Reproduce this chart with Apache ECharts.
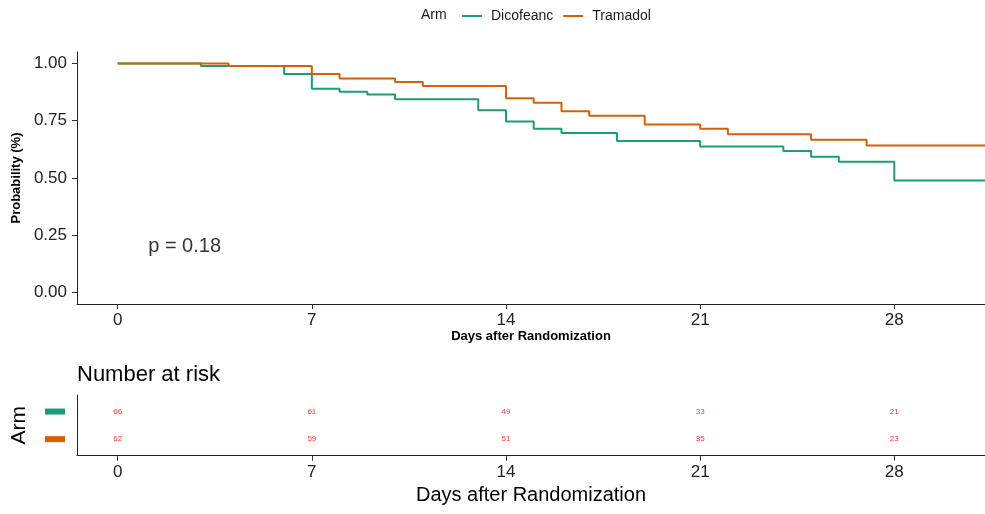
<!DOCTYPE html>
<html><head><meta charset="utf-8">
<script src="https://cdn.jsdelivr.net/npm/echarts@6/dist/echarts.min.js"></script>
<style>html,body{margin:0;padding:0;background:#fff}#c{width:985px;height:514px}</style>
</head><body><div id="c"></div>
<script>
const armNames = ['Dicofeanc', 'Tramadol'];
const armColors = ['#1B9E77', '#D95F02'];
const dicofeancTimes = [0, 3, 6, 7, 8, 9, 10, 13, 14, 15, 16, 18, 21, 24, 25, 26, 28];
const dicofeancSurv  = [1, 0.989, 0.954, 0.890, 0.877, 0.864, 0.844, 0.796, 0.747, 0.715, 0.696, 0.662, 0.637, 0.618, 0.593, 0.571, 0.489];
const tramadolTimes  = [0, 4, 7, 8, 10, 11, 14, 15, 16, 17, 19, 21, 22, 25, 27];
const tramadolSurv   = [1, 0.989, 0.954, 0.934, 0.919, 0.902, 0.848, 0.829, 0.791, 0.772, 0.734, 0.715, 0.691, 0.667, 0.642];
const followUpEnd = 31.3;
const xTicks = [0, 7, 14, 21, 28];
const yTicks = [0, 0.25, 0.5, 0.75, 1];
const riskTimes = [0, 7, 14, 21, 28];
const riskDicofeanc = [66, 61, 49, 33, 21];
const riskTramadol  = [62, 59, 51, 35, 23];
const pValueText = 'p = 0.18';

const FONT = '"Liberation Sans", Arial, sans-serif';
const X_MIN = -1.467, X_MAX = 31.27;

function km(times, surv) {
  const d = times.map((t, i) => [t, surv[i]]);
  d.push([followUpEnd, surv[surv.length - 1]]);
  return d;
}

const chart = echarts.init(document.getElementById('c'), null, {renderer: 'canvas'});
const axisLine = {show: true, onZero: false, lineStyle: {color: '#222', width: 1}};
const axisTick = {show: true, length: 5, lineStyle: {color: '#333', width: 1}, customValues: xTicks};

chart.setOption({
  animation: false,
  textStyle: {fontFamily: FONT},
  title: {
    text: 'Number at risk', left: 77, top: 364, padding: 0,
    textStyle: {fontSize: 22, fontWeight: 'normal', color: '#000', fontFamily: FONT}
  },
  legend: {
    data: armNames, left: 457, top: 4, icon: 'rect', itemWidth: 20, itemHeight: 2, itemGap: 10,
    textStyle: {fontSize: 14, color: '#1a1a1a', fontFamily: FONT, padding: [0, 0, 0, 4]}
  },
  graphic: [{
    type: 'text', left: 421, top: 8,
    style: {text: 'Arm', fontSize: 14, fill: '#1a1a1a', fontFamily: FONT}
  }],
  grid: [
    {left: 77, width: 908, top: 52, height: 252},
    {left: 77, width: 908, top: 395, height: 60.7}
  ],
  xAxis: [
    {
      type: 'value', gridIndex: 0, min: X_MIN, max: X_MAX,
      splitLine: {show: false}, axisLine: axisLine, axisTick: axisTick,
      axisLabel: {customValues: xTicks, fontSize: 17, color: '#222', margin: 8, fontFamily: FONT},
      name: 'Days after Randomization', nameLocation: 'middle', nameGap: 23,
      nameTextStyle: {fontSize: 13, fontWeight: 'bold', color: '#000', fontFamily: FONT}
    },
    {
      type: 'value', gridIndex: 1, min: X_MIN, max: X_MAX,
      splitLine: {show: false}, axisLine: axisLine, axisTick: axisTick,
      axisLabel: {customValues: xTicks, fontSize: 17, color: '#222', margin: 8, fontFamily: FONT},
      name: 'Days after Randomization', nameLocation: 'middle', nameGap: 30,
      nameTextStyle: {fontSize: 20, color: '#000', fontFamily: FONT}
    }
  ],
  yAxis: [
    {
      type: 'value', gridIndex: 0, min: -0.05, max: 1.05,
      splitLine: {show: false}, axisLine: axisLine,
      axisTick: {show: true, length: 5, lineStyle: {color: '#333', width: 1}, customValues: yTicks},
      axisLabel: {customValues: yTicks, fontSize: 17, color: '#222', margin: 10, fontFamily: FONT,
                  formatter: v => v.toFixed(2)},
      name: 'Probability (%)', nameLocation: 'middle', nameGap: 46,
      nameTextStyle: {fontSize: 13, fontWeight: 'bold', color: '#000', fontFamily: FONT}
    },
    {
      type: 'value', gridIndex: 1, min: 0.4, max: 2.6,
      splitLine: {show: false}, axisLine: axisLine,
      axisTick: {show: false},
      axisLabel: {
        customValues: [1, 2], margin: 12,
        formatter: v => (v === 2 ? '{g| }' : '{o| }'),
        rich: {
          g: {backgroundColor: armColors[0], width: 20, height: 6, fontSize: 1},
          o: {backgroundColor: armColors[1], width: 20, height: 6, fontSize: 1}
        }
      },
      name: 'Arm', nameLocation: 'middle', nameGap: 47,
      nameTextStyle: {fontSize: 21, color: '#000', fontFamily: FONT}
    }
  ],
  series: [
    {
      name: armNames[0], type: 'line', step: 'end', xAxisIndex: 0, yAxisIndex: 0,
      data: km(dicofeancTimes, dicofeancSurv), showSymbol: false, symbol: 'none',
      lineStyle: {color: armColors[0], width: 2}, itemStyle: {color: armColors[0]}, clip: true, z: 2
    },
    {
      name: armNames[1], type: 'line', step: 'end', xAxisIndex: 0, yAxisIndex: 0,
      data: km(tramadolTimes, tramadolSurv), showSymbol: false, symbol: 'none',
      lineStyle: {color: armColors[1], width: 2}, itemStyle: {color: armColors[1]}, clip: true, z: 3
    },
    {
      name: 'pval', type: 'scatter', xAxisIndex: 0, yAxisIndex: 0, silent: true,
      data: [[1.1, 0.2]], symbolSize: 0,
      label: {show: true, position: 'right', distance: 0, formatter: pValueText,
              fontSize: 20, color: '#000', fontFamily: FONT}
    },
    {
      name: 'riskD', type: 'scatter', xAxisIndex: 1, yAxisIndex: 1, silent: true, symbolSize: 0,
      data: riskTimes.map((t, i) => [t, 2, riskDicofeanc[i]]),
      label: {show: true, position: 'inside', formatter: p => p.value[2], fontSize: 8, color: '#FF0000', fontFamily: FONT}
    },
    {
      name: 'riskT', type: 'scatter', xAxisIndex: 1, yAxisIndex: 1, silent: true, symbolSize: 0,
      data: riskTimes.map((t, i) => [t, 1, riskTramadol[i]]),
      label: {show: true, position: 'inside', formatter: p => p.value[2], fontSize: 8, color: '#FF0000', fontFamily: FONT}
    }
  ]
});
</script></body></html>
